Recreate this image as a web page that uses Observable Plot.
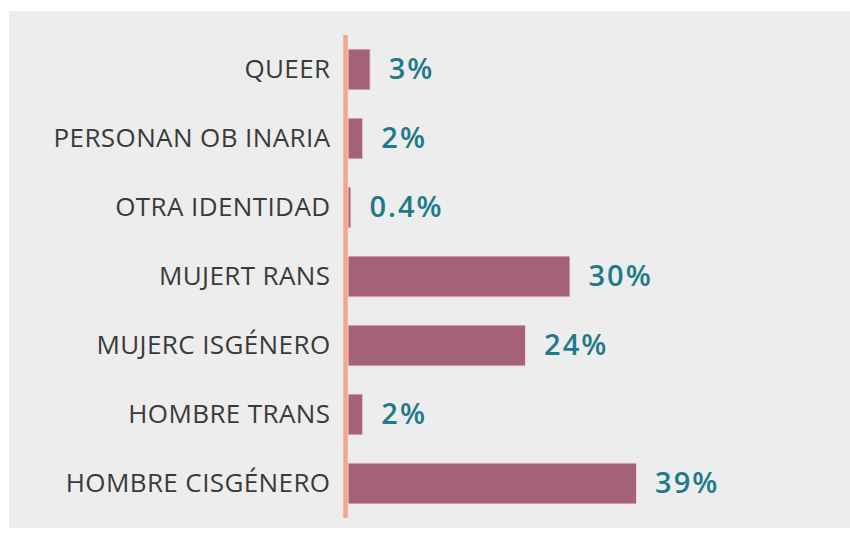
<!DOCTYPE html>
<html>
<head>
<meta charset="utf-8">
<script src="https://cdn.jsdelivr.net/npm/d3@7"></script>
<script src="https://cdn.jsdelivr.net/npm/@observablehq/plot@0.6"></script>
<style>
  html, body { margin: 0; padding: 0; background: #ffffff; }
  #wrap { padding: 11px 0 0 9px; }
  #wrap svg { background: #ededed; display: block; }
  .pct text { letter-spacing: 2px; }
  .cat text { letter-spacing: 0.4px; }
</style>
</head>
<body>
<div id="wrap"></div>
<script>
const categories = ["QUEER", "PERSONAN OB INARIA", "OTRA IDENTIDAD", "MUJERT RANS", "MUJERC ISGÉNERO", "HOMBRE TRANS", "HOMBRE CISGÉNERO"];
const values = [3, 2, 0.4, 30, 24, 2, 39];
const labels = ["3%", "2%", "0.4%", "30%", "24%", "2%", "39%"];

const data = categories.map((c, i) => ({category: c, value: values[i], label: labels[i]}));

const chart = Plot.plot({
  width: 841,
  height: 517,
  marginLeft: 339,
  marginRight: 58,
  marginTop: 24,
  marginBottom: 10,
  style: {fontFamily: "'Open Sans', sans-serif", background: "#ededed", color: "#3a3a3a"},
  x: {domain: [0, 60], axis: null},
  y: {domain: categories, paddingInner: 0.406, paddingOuter: 0.203, label: null},
  marks: [
    Plot.axisY({tickSize: 0, tickPadding: 18, fontSize: 26, label: null, className: "cat"}),
    Plot.barX(data, {x: "value", y: "category", fill: "#a5617a", stroke: "#eddde2", strokeWidth: 1}),
    Plot.ruleX([0], {stroke: "#f3a68f", strokeWidth: 4.5, dx: -3}),
    Plot.text(data, {x: "value", y: "category", text: "label", dx: 18, textAnchor: "start", fontSize: 29, fontWeight: 600, fill: "#1d7a8a", className: "pct"})
  ]
});
document.getElementById("wrap").appendChild(chart);
</script>
</body>
</html>
